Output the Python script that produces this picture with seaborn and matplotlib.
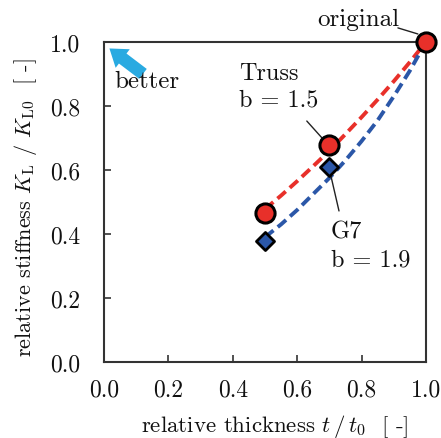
import matplotlib
matplotlib.use("Agg")
import matplotlib.pyplot as plt
import seaborn as sns
import pandas as pd

# measured points
thickness = [0.5, 0.7, 1.0]
truss_stiff = [0.466, 0.678, 1.0]
g7_stiff = [0.377, 0.61, 1.0]

# fitted curves
curve_x = [0.5, 0.55, 0.6, 0.65, 0.7, 0.75, 0.8, 0.85, 0.9, 0.95, 1.0]
truss_curve = [0.478, 0.52, 0.565, 0.612, 0.66, 0.712, 0.765, 0.82, 0.877, 0.937, 1.0]
g7_curve = [0.39, 0.43, 0.475, 0.525, 0.575, 0.63, 0.69, 0.755, 0.83, 0.91, 1.0]

xticks = [0.0, 0.2, 0.4, 0.6, 0.8, 1.0]
yticks = [0.0, 0.2, 0.4, 0.6, 0.8, 1.0]

RED = "#e8302a"
BLUE = "#2b57a8"
ARROW = "#29aae1"

sns.set_theme(style="white")
plt.rcParams["font.family"] = ["cmr10", "DejaVu Serif"]
plt.rcParams["mathtext.fontset"] = "cm"
plt.rcParams["axes.formatter.use_mathtext"] = True
plt.rcParams["axes.unicode_minus"] = False

fig = plt.figure(figsize=(4.41, 4.39), dpi=100)
ax = fig.add_axes([0.2358, 0.1731, 0.730, 0.729])

curves = pd.DataFrame({"x": curve_x, "truss": truss_curve, "g7": g7_curve})
sns.lineplot(data=curves, x="x", y="truss", ax=ax, color=RED, lw=2.8,
             linestyle=(0, (2.8, 1.4)), zorder=2)
sns.lineplot(data=curves, x="x", y="g7", ax=ax, color=BLUE, lw=2.8,
             linestyle=(0, (2.8, 1.4)), zorder=2)

pts = pd.DataFrame({"t": thickness, "truss": truss_stiff, "g7": g7_stiff})
sns.scatterplot(data=pts, x="t", y="g7", ax=ax, marker="D", s=85,
                color=BLUE, edgecolor="black", linewidth=2, zorder=3, clip_on=False)
sns.scatterplot(data=pts, x="t", y="truss", ax=ax, marker="o", s=190,
                color=RED, edgecolor="black", linewidth=2.2, zorder=4, clip_on=False)

ax.set_xlim(0, 1)
ax.set_ylim(0, 1)
ax.set_xticks(xticks)
ax.set_yticks(yticks)
ax.set_xticklabels([f"{v:.1f}" for v in xticks])
ax.set_yticklabels([f"{v:.1f}" for v in yticks])
ax.tick_params(axis="x", direction="in", length=5, width=1.2, color="#333333",
               labelsize=17, pad=12, bottom=True, top=False, labelcolor="#111111")
ax.tick_params(axis="y", direction="in", length=5, width=1.2, color="#333333",
               labelsize=17, pad=17, left=True, right=False, labelcolor="#111111")
for sp in ax.spines.values():
    sp.set_color("#333333")
    sp.set_linewidth(1.5)

ax.set_xlabel(r"relative thickness $t\,/\,t_0$  [ -]", fontsize=16.5, labelpad=8,
              color="#111111", x=0.532)
ax.set_ylabel(r"relative stiffness $K_\mathrm{L}$ / $K_\mathrm{L0}$  [ -]", fontsize=16,
              labelpad=8, color="#111111", y=0.487)

# annotations
ax.annotate("", xy=(0.010, 0.985), xytext=(0.128, 0.895),
            arrowprops=dict(arrowstyle="simple,head_length=1.0,head_width=1.4,tail_width=0.75",
                            color=ARROW, lw=0), annotation_clip=False)
ax.text(0.031, 0.859, "better", fontsize=18, ha="left", va="baseline", color="#111111")

ax.text(0.661, 1.053, "original", fontsize=18, ha="left", va="baseline",
        color="#111111", clip_on=False)
ax.plot([0.913, 0.975], [1.044, 1.025], color="#222222", lw=1, clip_on=False)

ax.text(0.419, 0.884, "Truss", fontsize=17.5, ha="left", va="baseline", color="#111111")
ax.text(0.419, 0.80, "b = 1.5", fontsize=17.5, ha="left", va="baseline", color="#111111")
ax.plot([0.630, 0.680], [0.753, 0.697], color="#222222", lw=1)

ax.text(0.705, 0.39, "G7", fontsize=17.5, ha="left", va="baseline", color="#111111")
ax.text(0.705, 0.30, "b = 1.9", fontsize=17.5, ha="left", va="baseline", color="#111111")
ax.plot([0.702, 0.730], [0.594, 0.472], color="#222222", lw=1)

fig.savefig("out.png", dpi=100)
